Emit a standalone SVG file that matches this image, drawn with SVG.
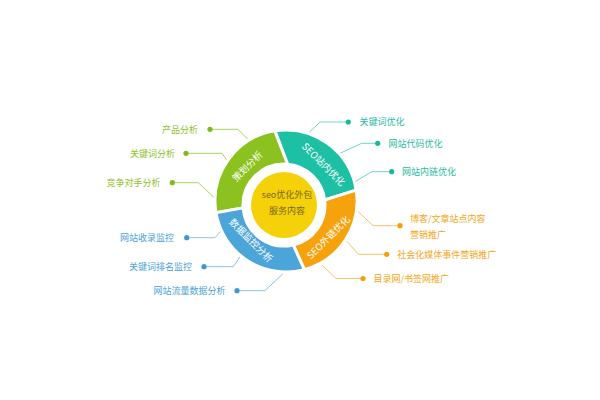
<svg xmlns="http://www.w3.org/2000/svg" width="600" height="400" viewBox="0 0 600 400">
<style>
text{font-family:"Noto Sans CJK SC","Noto Sans",sans-serif;font-size:9px}
.lbl-g{fill:#8dc21f}.lbl-t{fill:#1fbba0}.lbl-o{fill:#f5a623}.lbl-b{fill:#4aa3d6}
.ln{fill:none;stroke-width:1}
.ln-g{stroke:#a9d35b}.ln-t{stroke:#6fd5c3}.ln-o{stroke:#f9c469}.ln-b{stroke:#8ac3e6}
.seg{stroke:#fff;stroke-width:3;stroke-linejoin:round}
.ring-txt{fill:#fff;font-size:9.5px;text-anchor:middle;dominant-baseline:central}
.end{text-anchor:end}
</style>
<rect width="600" height="400" fill="#fff"/>
<g id="connectors">
<polyline class="ln ln-g" points="250,141.5 238,129.3 210,129.3"/>
<polyline class="ln ln-g" points="229,163 222,153.3 186,153.3"/>
<polyline class="ln ln-g" points="215,198.3 198.3,182.7 172.3,182.7"/>
<polyline class="ln ln-b" points="223.3,228.3 215,237.7 186.7,237.7"/>
<polyline class="ln ln-b" points="240,256.7 233.3,266.7 204,266.7"/>
<polyline class="ln ln-b" points="283.3,273.3 265,290.7 237,290.7"/>
<polyline class="ln ln-t" points="308.3,133.3 320,122 348.3,122"/>
<polyline class="ln ln-t" points="340,153.3 361.7,143.3 377.7,143.3"/>
<polyline class="ln ln-t" points="355,181.7 371.7,171.7 391.7,171.7"/>
<polyline class="ln ln-o" points="358.3,211.7 373,225.7 400,225.7"/>
<polyline class="ln ln-o" points="346.7,241 358.3,254.3 386.7,254.3"/>
<polyline class="ln ln-o" points="322,265 336,278.5 363,278.5"/>
</g>
<g id="ring">
<path class="seg" fill="#8cc21f" d="M 216.0,212.84 A 71 71 0 0 1 275.0,130.85 L 287.79,164.18 A 41 41 0 0 0 243.10,207.86 Z"/>
<path class="seg" fill="#1dc0a5" d="M 275.0,130.85 A 71 71 0 0 1 356.16,190.14 L 324.69,200.0 A 41 41 0 0 0 287.79,164.18 Z"/>
<path class="seg" fill="#f6a20c" d="M 356.16,190.14 A 71 71 0 0 1 304.38,269.58 L 293.22,244.95 A 41 41 0 0 0 324.69,200.0 Z"/>
<path class="seg" fill="#4ca5d9" d="M 304.38,269.58 A 71 71 0 0 1 216.0,212.84 L 243.10,207.86 A 41 41 0 0 0 293.22,244.95 Z"/>
<text class="ring-txt" transform="translate(247,166) rotate(-45)">策划分析</text>
<text class="ring-txt" transform="translate(324,164) rotate(45)">SEO站内优化</text>
<text class="ring-txt" transform="translate(328,237) rotate(-45)">SEO外链优化</text>
<text class="ring-txt" transform="translate(251.5,240) rotate(45)">数据监控分析</text>
</g>
<g id="center">
<circle cx="284" cy="205" r="33" fill="#f5d10a"/>
<text x="287" y="198.3" text-anchor="middle" fill="#7a6722">seo优化外包</text>
<text x="287" y="214" text-anchor="middle" fill="#7a6722">服务内容</text>
</g>
<g id="node-product"><circle cx="210" cy="129.3" r="2.6" fill="#7dbb1e"/><text class="lbl-g end" x="198" y="132.6">产品分析</text></g>
<g id="node-keyword"><circle cx="186" cy="153.3" r="2.6" fill="#7dbb1e"/><text class="lbl-g end" x="175" y="156.6">关键词分析</text></g>
<g id="node-competitor"><circle cx="172.3" cy="182.7" r="2.6" fill="#7dbb1e"/><text class="lbl-g end" x="160.5" y="186">竞争对手分析</text></g>
<g id="node-index"><circle cx="186.7" cy="237.7" r="2.6" fill="#3f9ad3"/><text class="lbl-b end" x="174" y="241">网站收录监控</text></g>
<g id="node-rank"><circle cx="204" cy="266.7" r="2.6" fill="#3f9ad3"/><text class="lbl-b end" x="192" y="270">关键词排名监控</text></g>
<g id="node-traffic"><circle cx="237" cy="290.7" r="2.6" fill="#3f9ad3"/><text class="lbl-b end" x="225.5" y="294">网站流量数据分析</text></g>
<g id="node-kwopt"><circle cx="348.3" cy="122" r="2.6" fill="#17b99c"/><text class="lbl-t" x="359.5" y="125.3">关键词优化</text></g>
<g id="node-code"><circle cx="377.7" cy="143.3" r="2.6" fill="#17b99c"/><text class="lbl-t" x="388.5" y="146.6">网站代码优化</text></g>
<g id="node-link"><circle cx="391.7" cy="171.7" r="2.6" fill="#17b99c"/><text class="lbl-t" x="402" y="175">网站内链优化</text></g>
<g id="node-blog"><circle cx="400" cy="225.7" r="2.6" fill="#f5a000"/><text class="lbl-o" x="410" y="221.6">博客/文章站点内容</text><text class="lbl-o" x="410" y="238.3">营销推广</text></g>
<g id="node-social"><circle cx="386.7" cy="254.3" r="2.6" fill="#f5a000"/><text class="lbl-o" x="397.3" y="257.6">社会化媒体事件营销推广</text></g>
<g id="node-dir"><circle cx="363" cy="278.5" r="2.6" fill="#f5a000"/><text class="lbl-o" x="373.5" y="281.8">目录网/书签网推广</text></g>
</svg>
